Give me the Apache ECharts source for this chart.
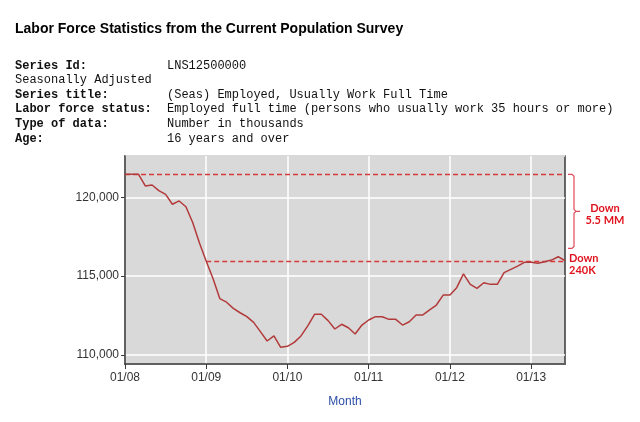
<!DOCTYPE html>
<html>
<head>
<meta charset="utf-8">
<script src="https://cdn.jsdelivr.net/npm/echarts@6/dist/echarts.min.js"></script>
<style>
html,body{margin:0;padding:0;background:#fff;}
#c{width:640px;height:422px;}
</style>
</head>
<body>
<div id="c"></div>
<script>
// ---- data ----
const months = [
  '01/08','02/08','03/08','04/08','05/08','06/08','07/08','08/08','09/08','10/08','11/08','12/08',
  '01/09','02/09','03/09','04/09','05/09','06/09','07/09','08/09','09/09','10/09','11/09','12/09',
  '01/10','02/10','03/10','04/10','05/10','06/10','07/10','08/10','09/10','10/10','11/10','12/10',
  '01/11','02/11','03/11','04/11','05/11','06/11','07/11','08/11','09/11','10/11','11/11','12/11',
  '01/12','02/12','03/12','04/12','05/12','06/12','07/12','08/12','09/12','10/12','11/12','12/12',
  '01/13','02/13','03/13','04/13','05/13','06/13'
];
const employed = [
  121460,121460,121460,120720,120780,120420,120190,119560,119770,119400,118400,117100,
  115950,114850,113580,113350,112960,112680,112430,112070,111480,110890,111210,110490,
  110550,110800,111210,111850,112580,112580,112180,111650,111950,111730,111330,111900,
  112220,112430,112430,112260,112260,111900,112110,112540,112540,112860,113170,113800,
  113800,114270,115140,114480,114230,114585,114480,114480,115220,115430,115640,115880,
  115880,115815,115920,116020,116230,115980
];
const yTickLabels = [110000, 115000, 120000];
const xTickLabels = ['01/08','01/09','01/10','01/11','01/12','01/13'];
const refLevels = [121460, 115970];
const refStarts = ['01/08', '01/09'];
const bracketRange = [121460, 116760];

const infoLabels = ['Series Id:', '', 'Series title:', 'Labor force status:', 'Type of data:', 'Age:'];
const infoValues = ['LNS12500000', '', '(Seas) Employed, Usually Work Full Time',
  'Employed full time (persons who usually work 35 hours or more)', 'Number in thousands', '16 years and over'];
const plainLine = 'Seasonally Adjusted';

// ---- chart ----
const chart = echarts.init(document.getElementById('c'), null, {renderer: 'canvas'});
const lastMonth = months[months.length - 1];
const showYear = (i) => xTickLabels.indexOf(months[i]) >= 0;

const option = {
  animation: false,
  backgroundColor: '#ffffff',
  grid: {left: 125, right: 75, top: 156, bottom: 58, show: true,
    backgroundColor: '#d9d9d9', borderColor: '#3a3a3a', borderWidth: 1.5},
  xAxis: {
    type: 'category', data: months, boundaryGap: false,
    axisLine: {show: true, lineStyle: {color: '#3a3a3a', width: 1.5}},
    axisTick: {show: true, interval: (i) => showYear(i), length: 5, lineStyle: {color: '#3a3a3a', width: 1}},
    axisLabel: {interval: (i) => showYear(i), color: '#333', fontSize: 12,
      fontFamily: 'Liberation Sans, Arial, sans-serif', margin: 8},
    splitLine: {show: true, interval: (i) => showYear(i), lineStyle: {color: '#ffffff', width: 1.5}},
    name: 'Month', nameLocation: 'middle', nameGap: 32,
    nameTextStyle: {color: '#2b4ea5', fontSize: 12, fontFamily: 'Liberation Sans, Arial, sans-serif'}
  },
  yAxis: {
    type: 'value', min: 109430, max: 122620, splitNumber: 3,
    axisLine: {show: true, lineStyle: {color: '#3a3a3a', width: 1.5}},
    axisTick: {show: true, length: 4, lineStyle: {color: '#3a3a3a', width: 1}},
    axisLabel: {color: '#333', fontSize: 12, fontFamily: 'Liberation Sans, Arial, sans-serif', margin: 6,
      showMinLabel: false, showMaxLabel: false,
      formatter: (v) => yTickLabels.indexOf(v) >= 0 ? v.toLocaleString('en-US') : ''},
    splitLine: {show: true, lineStyle: {color: '#ffffff', width: 1.5}}
  },
  series: [{
    type: 'line', data: employed, showSymbol: false, symbol: 'none',
    lineStyle: {color: '#b23a3a', width: 1.5},
    z: 3,
    markLine: {
      silent: true, symbol: ['none', 'none'], label: {show: false},
      lineStyle: {color: '#d83a3a', width: 1.3, type: [5, 3]},
      z: 2,
      data: refLevels.map((lv, k) => [{coord: [refStarts[k], lv]}, {coord: [lastMonth, lv]}])
    }
  }]
};
chart.setOption(option);

// ---- annotations (positions derived from the axes) ----
const xr = chart.convertToPixel({xAxisIndex: 0}, lastMonth);
const yT = chart.convertToPixel({yAxisIndex: 0}, bracketRange[0]);
const yB = chart.convertToPixel({yAxisIndex: 0}, bracketRange[1]);
const yRef2 = chart.convertToPixel({yAxisIndex: 0}, refLevels[1]);
const ym = (yT + yB) / 2;
const xL = xr + 3, xV = xr + 9, xTip = xr + 15, r = 2;

const mono = '"Liberation Mono", "Courier New", monospace';
const graphics = [];
graphics.push({type: 'text', x: 15, y: 29, style: {text: 'Labor Force Statistics from the Current Population Survey',
  font: 'bold 14px "Liberation Sans", Arial, sans-serif', fill: '#000', verticalAlign: 'middle'}});
for (let i = 0; i < infoLabels.length; i++) {
  const y = 65.5 + i * 14.6;
  if (i === 1) {
    graphics.push({type: 'text', x: 15, y: y, style: {text: plainLine, font: '12px ' + mono,
      fill: '#111', verticalAlign: 'middle'}});
    continue;
  }
  graphics.push({type: 'text', x: 15, y: y, style: {text: infoLabels[i], font: 'bold 12px ' + mono,
    fill: '#111', verticalAlign: 'middle'}});
  graphics.push({type: 'text', x: 167, y: y, style: {text: infoValues[i], font: '12px ' + mono,
    fill: '#111', verticalAlign: 'middle'}});
}
const bracketStyle = {fill: null, stroke: '#e04a58', lineWidth: 1.2};
graphics.push({type: 'polyline', shape: {points: [[xL, yT], [xV - r, yT], [xV, yT + r], [xV, ym - r], [xV + r, ym], [xTip, ym]]},
  style: bracketStyle});
graphics.push({type: 'polyline', shape: {points: [[xV + r, ym], [xV, ym + r], [xV, yB - r], [xV - r, yB], [xL, yB]]},
  style: bracketStyle});
graphics.push({type: 'text', x: xr + 40, y: ym + 3, style: {text: 'Down\n5.5 MM',
  font: 'bold 11px Lato, "Liberation Sans", sans-serif', fill: '#e0141e', align: 'center',
  verticalAlign: 'middle', lineHeight: 12}});
graphics.push({type: 'text', x: xr + 4, y: yRef2 + 3.5, style: {text: 'Down\n240K',
  font: 'bold 11px Lato, "Liberation Sans", sans-serif', fill: '#e0141e', align: 'left',
  verticalAlign: 'middle', lineHeight: 12.5}});
chart.setOption({graphic: graphics});
</script>
</body>
</html>
